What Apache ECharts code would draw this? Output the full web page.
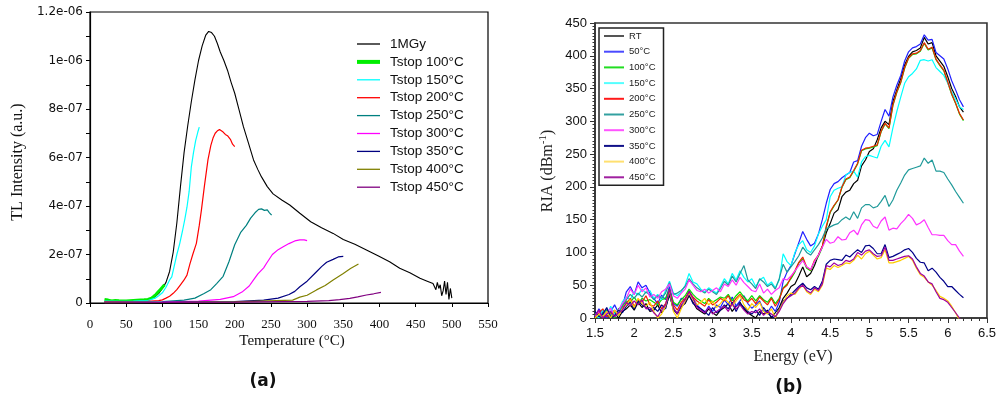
<!DOCTYPE html>
<html>
<head>
<meta charset="utf-8">
<script src="https://cdn.jsdelivr.net/npm/echarts@6/dist/echarts.min.js"></script>
<style>
html,body{margin:0;padding:0;background:#fff;}
#chart{width:999px;height:408px;}
</style>
</head>
<body>
<div id="chart"></div>
<script>
// ---------- Panel (a): TL glow curves (values in units of 1e-7 a.u.) ----------
const yTickLabelsA = ["0","2e-07","4e-07","6e-07","8e-07","1e-06","1.2e-06"];
const namesA = ["1MGy","Tstop 100°C","Tstop 150°C","Tstop 200°C","Tstop 250°C","Tstop 300°C","Tstop 350°C","Tstop 400°C","Tstop 450°C"];

const tMGy = [20,30,40,50,60,70,80,85,90,95,100,105,110,115,120,125,130,135,140,145,150,155,160,164,168,172,176,180,185,190,195,200,206,212,219,226,232,237,245,253,265,276,290,305,320,336,350,366,382,398,414,428,442,456,466,474,478,480,482,484,486,488,490,492,494,496,498,500];
const vMGy = [0.05,0.05,0.06,0.07,0.07,0.09,0.12,0.17,0.26,0.4,0.6,0.85,1.3,2.1,3.3,4.8,6.2,7.3,8.3,9.2,10.0,10.6,11.05,11.2,11.15,11.0,10.7,10.35,10.0,9.6,9.1,8.65,7.96,7.27,6.59,5.9,5.5,5.2,4.8,4.5,4.25,4.04,3.7,3.35,3.1,2.87,2.62,2.42,2.19,1.95,1.7,1.43,1.25,1.02,0.9,0.8,0.55,0.85,0.6,0.75,0.3,0.5,0.9,0.35,0.85,0.15,0.6,0.2];

const t100 = [20,22,25,30,35,40,50,60,70,75,80,85,88,91,94,97,100,103];
const v100 = [0.15,0.1,0.12,0.08,0.1,0.09,0.08,0.1,0.12,0.13,0.15,0.2,0.27,0.35,0.45,0.55,0.65,0.75];

const t150 = [20,40,60,80,90,95,100,105,110,113,117,120,124,128,131,134,137,140,143,146,149,151];
const v150 = [0.08,0.07,0.08,0.1,0.2,0.3,0.42,0.65,0.95,1.08,1.6,2.0,2.45,3.0,3.45,3.95,4.6,5.6,6.2,6.7,7.05,7.25];

const t200 = [20,40,60,80,95,100,105,110,115,120,125,130,134,138,142,147,151,154,158,163,167,170,173,176,179,181,184,187,190,194,197,200];
const v200 = [0.06,0.06,0.06,0.07,0.1,0.13,0.2,0.28,0.4,0.55,0.75,0.95,1.15,1.6,2.0,2.46,3.2,3.84,4.8,5.9,6.5,6.8,7.0,7.1,7.15,7.2,7.05,6.95,6.9,6.75,6.55,6.45];

const t250 = [20,60,100,130,145,157,167,175,184,192,200,208,216,222,228,233,237,241,245,248,251];
const v250 = [0.04,0.05,0.06,0.12,0.2,0.38,0.55,0.8,1.1,1.7,2.4,2.9,3.2,3.5,3.72,3.86,3.88,3.82,3.84,3.72,3.62];

const t300 = [20,100,150,180,198,210,220,226,232,240,244,252,260,267,275,283,290,296,300];
const v300 = [0.03,0.04,0.08,0.15,0.26,0.45,0.7,0.95,1.2,1.45,1.64,2.0,2.2,2.32,2.45,2.56,2.6,2.6,2.57];

const t350 = [20,100,200,240,260,275,283,290,300,313,320,327,336,343,350];
const v350 = [0.02,0.03,0.06,0.12,0.2,0.35,0.48,0.67,0.9,1.29,1.5,1.68,1.8,1.9,1.92];

const t400 = [20,100,200,280,290,300,313,325,336,350,360,371];
const v400 = [0.01,0.02,0.05,0.12,0.24,0.32,0.54,0.72,0.95,1.22,1.42,1.61];

const t450 = [20,100,200,300,330,345,359,370,382,392,402];
const v450 = [0.0,0.02,0.04,0.07,0.1,0.14,0.19,0.25,0.33,0.38,0.44];

// ---------- Panel (b): RIA spectra ----------
const namesB = ["RT","50°C","100°C","150°C","200°C","250°C","300°C","350°C","400°C","450°C"];
const energy = [1.5,1.55,1.6,1.65,1.7,1.75,1.8,1.85,1.9,1.95,2.0,2.05,2.1,2.15,2.2,2.25,2.3,2.35,2.4,2.45,2.5,2.55,2.6,2.65,2.7,2.75,2.8,2.85,2.9,2.95,3.0,3.05,3.1,3.15,3.2,3.25,3.3,3.35,3.4,3.45,3.5,3.55,3.6,3.65,3.7,3.75,3.8,3.85,3.9,3.95,4.0,4.05,4.1,4.15,4.2,4.25,4.3,4.35,4.4,4.45,4.5,4.55,4.6,4.65,4.7,4.75,4.8,4.85,4.9,4.95,5.0,5.05,5.1,5.15,5.2,5.25,5.3,5.35,5.4,5.45,5.5,5.55,5.6,5.65,5.7,5.75,5.8,5.85,5.9,5.95,6.0,6.05,6.1,6.15,6.2];

const riaRT = [6,0,10,4,2,8,0, 10,14,20,12,24,16,22,10, 12,20,8,16,35, 14,6,18, 22,34,24,14, 10,6,14,8,4,12, 16,22,10,18,24,14,8,4, 0,10,6,12,0,8,16, 30,38,48,52,64,78,63,68,80,96,109,130,
  144,160,165,185,192,195,205,210,232,241,254,258,272,290,300,295,330,348,365,386,399,406,408,412,428,418,420,400,392,384,368,350,338,322,314];
const ria50 = [2,14,6,0,10,20,8, 18,40,48,36,55,46,50,38, 30,22,35,28,48, 22,18,30, 28,42,30,20, 14,8,18,10,20,16, 28,20,32,18,26,34,22,15, 20,26,12,8,18,10,24, 56,70,80,98,115,132,120,110,114,128,150,175,
  196,205,208,214,218,222,238,240,262,275,282,278,280,300,318,308,337,355,370,392,406,412,414,418,432,424,425,405,400,395,380,362,348,333,322];
const ria100 = [4,10,2,12,8,0,14, 18,26,24,32,22,30,26,28, 24,20,28,30,44, 24,20,28, 34,44,36,30, 26,22,30,24,28,32, 30,36,26,34,40,32,26,34, 26,34,28,24,32,22,30, 46,52,60,70,84,90,76,72,86,94,108,138,
  161,171,180,199,211,214,224,235,255,258,259,261,263,284,296,289,324,344,359,381,396,402,403,407,419,409,412,394,385,377,359,341,327,311,301];
const ria150 = [5,0,12,4,18,6,10, 25,32,28,40,35,44,38,42, 30,36,28,42,56, 38,34,40, 50,68,55,52, 44,40,46,42,38,48, 60,52,68,58,72,62,55,60, 48,58,62,50,55,46,58, 98,86,80,100,112,118,104,100,110,128,140,150,
  185,195,198,200,218,222,224,215,238,246,248,246,244,262,271,261,290,315,337,358,368,373,380,393,394,392,394,382,376,370,358,345,334,322,318];
const ria200 = [0,8,14,2,6,12,4, 15,22,30,18,28,24,34,20, 18,26,14,22,40, 20,12,24, 30,40,32,26, 22,18,28,20,24,30, 26,34,22,30,36,28,24,30, 22,32,26,20,30,18,28, 45,50,62,72,85,93,78,73,88,96,110,140,
  162,172,180,200,212,215,225,236,256,259,260,262,264,285,297,290,325,345,360,382,397,403,404,408,420,410,413,395,386,378,360,342,328,312,302];
const ria250 = [8,2,6,14,3,10,4, 20,28,36,30,38,32,40,35, 28,34,30,38,54, 36,38,42, 48,60,52,46, 42,38,44,40,36,45, 56,50,64,55,68,80,58,52, 45,60,55,48,52,44,60, 82,70,78,86,95,108,100,96,104,112,122,136,
  139,142,144,150,154,150,162,152,168,173,173,168,170,178,187,170,180,195,206,218,226,228,230,232,244,236,241,224,224,222,212,203,193,184,175];
const ria300 = [3,10,0,8,15,2,12, 22,30,44,36,50,40,46,32, 36,30,40,44,52, 34,30,38, 44,58,50,42, 40,44,38,42,46,40, 52,48,58,50,62,54,48,42, 40,52,38,44,36,42,46, 60,58,64,72,80,88,78,74,86,96,108,120,
  114,116,124,119,120,130,134,127,142,150,149,140,137,148,154,134,137,136,144,150,158,152,142,145,150,138,127,127,126,126,118,112,112,102,94];
const ria350 = [10,2,6,16,0,4,12, 8,18,24,14,26,20,16,12, 16,10,20,14,38, 12,8,16, 24,36,22,18, 14,10,4,16,8,12, 20,14,24,10,22,16,10,6, 12,4,16,8,2,0,14, 26,30,36,42,48,53,46,43,48,44,56,82,
  88,90,89,88,96,93,99,104,100,110,111,106,98,98,112,92,94,97,100,104,106,100,91,85,84,72,76,70,62,56,48,48,42,36,31];
const ria400 = [0,6,2,10,0,12,4, 14,20,28,16,30,22,18,24, 10,0,6,18,42, 10,0,14, 26,38,28,20, 24,30,20,26,16,22, 30,24,18,26,34,20,12,22, 16,24,10,6,14,0,12, 24,34,38,36,44,50,40,36,44,40,50,76,
  74,80,77,80,84,83,88,96,90,98,102,96,90,92,104,84,84,86,88,91,94,88,76,66,62,55,50,42,33,30,26,18,8,-4,-12];
const ria450 = [4,12,0,6,10,2,8, 12,24,18,26,20,28,14,16, 8,2,12,20,44, 16,6,20, 28,40,30,16, 12,8,16,6,10,14, 18,10,22,14,20,12,6,10, 8,14,4,10,6,2,10, 22,30,34,38,46,50,42,38,46,42,52,80,
  78,84,80,82,88,86,90,100,96,102,104,98,94,95,108,88,88,90,92,94,95,90,78,68,64,55,52,40,30,28,24,16,8,0,-8];

// ---------- build ----------
const pairs = (xs, ys) => xs.map((x, i) => [x, ys[i]]);

const specA = [
  [tMGy, vMGy, '#000000', 1.1],
  [t100, v100, '#00ee00', 3],
  [t150, v150, '#00ffff', 1.2],
  [t200, v200, '#ff0000', 1.2],
  [t250, v250, '#008080', 1.2],
  [t300, v300, '#ff00ff', 1.2],
  [t350, v350, '#000080', 1.2],
  [t400, v400, '#808000', 1.2],
  [t450, v450, '#800080', 1.2]
];
const seriesA = specA.map((s, i) => ({
  name: namesA[i], type: 'line', xAxisIndex: 0, yAxisIndex: 0,
  symbol: 'none', data: pairs(s[0], s[1]),
  lineStyle: { color: s[2], width: s[3] }, itemStyle: { color: s[2] }
}));

const specB = [
  [riaRT, '#000000', '#555555'], [ria50, '#2020ff', '#4a4aff'], [ria100, '#00dd00', '#22dd22'], [ria150, '#00ffff', '#55ffff'],
  [ria200, '#ee2200', '#ff1a1a'], [ria250, '#209a9a', '#33a0a0'], [ria300, '#ff33ff', '#ff55ff'], [ria350, '#000088', '#101088'],
  [ria400, '#ffcc00', '#ffe070'], [ria450, '#a000a0', '#a020a0']
];
const seriesB = specB.map((s, i) => ({
  name: namesB[i], type: 'line', xAxisIndex: 1, yAxisIndex: 1,
  symbol: 'none', data: pairs(energy, s[0]),
  lineStyle: { color: s[1], width: 1.2 }, itemStyle: { color: s[1] }
}));

const hiddenSymbol = { color: 'transparent', borderWidth: 0, opacity: 0 };
const legendDataA = namesA.map((n, i) => ({ name: n, lineStyle: { color: specA[i][2], width: specA[i][3] === 3 ? 4 : 1.3 } }));
const legendDataB = namesB.map((n, i) => ({ name: n, lineStyle: { color: specB[i][2], width: 2 } }));

const chart = echarts.init(document.getElementById('chart'), null, { renderer: 'canvas' });
chart.setOption({
  animation: false,
  backgroundColor: '#ffffff',
  grid: [
    { left: 90, top: 12, width: 398, height: 291, show: true, borderColor: '#000', borderWidth: 1.2, backgroundColor: 'transparent' },
    { left: 595, top: 23, width: 397, height: 295, show: true, borderColor: '#333', borderWidth: 1.6, backgroundColor: 'transparent' }
  ],
  xAxis: [
    { gridIndex: 0, type: 'value', min: 0, max: 550, interval: 50,
      axisLine: { show: true, onZero: false, lineStyle: { color: '#000', width: 1.2 } },
      axisTick: { show: true, length: 4, lineStyle: { color: '#000' } },
      axisLabel: { margin: 15, fontFamily: 'Liberation Serif', fontSize: 13, color: '#111' },
      splitLine: { show: false } },
    { gridIndex: 1, type: 'value', min: 1.5, max: 6.5, interval: 0.5,
      axisLine: { show: true, onZero: false, lineStyle: { color: '#333', width: 1.6 } },
      axisTick: { show: true, length: 5, lineStyle: { color: '#333' } },
      minorTick: { show: true, splitNumber: 5, length: 3, lineStyle: { color: '#333' } },
      axisLabel: { margin: 9, fontFamily: 'Liberation Sans', fontSize: 13, color: '#111' },
      splitLine: { show: false } }
  ],
  yAxis: [
    { gridIndex: 0, type: 'value', min: 0, max: 12, interval: 2,
      axisLine: { show: true, onZero: false, lineStyle: { color: '#000', width: 1.2 } },
      axisTick: { show: true, length: 4, lineStyle: { color: '#000' } },
      minorTick: { show: true, splitNumber: 2, length: 4, lineStyle: { color: '#000' } },
      axisLabel: { margin: 7, fontFamily: 'DejaVu Sans', fontSize: 12, color: '#111',
        formatter: v => yTickLabelsA[Math.round(v / 2)] },
      splitLine: { show: false } },
    { gridIndex: 1, type: 'value', min: 0, max: 450, interval: 50,
      axisLine: { show: true, onZero: false, lineStyle: { color: '#333', width: 1.6 } },
      axisTick: { show: true, length: 5, lineStyle: { color: '#333' } },
      minorTick: { show: true, splitNumber: 10, length: 2.5, lineStyle: { color: '#333' } },
      axisLabel: { margin: 8, fontFamily: 'Liberation Sans', fontSize: 13, color: '#111' },
      splitLine: { show: false } }
  ],
  legend: [
    { orient: 'vertical', left: 350, top: 32, itemWidth: 23, itemHeight: 14, itemGap: 3.9,
      selectedMode: false, data: legendDataA, itemStyle: hiddenSymbol,
      textStyle: { fontFamily: 'Liberation Sans', fontSize: 13.5, color: '#111', lineHeight: 14, padding: [0, 0, 0, 5] } },
    { orient: 'vertical', left: 599, top: 28, itemWidth: 20, itemHeight: 10, itemGap: 5.7,
      padding: [3, 8, 3, 4], borderColor: '#222', borderWidth: 1.5, backgroundColor: '#fff',
      selectedMode: false, data: legendDataB, itemStyle: hiddenSymbol,
      textStyle: { fontFamily: 'Liberation Sans', fontSize: 9.5, color: '#222', lineHeight: 10 } }
  ],
  graphic: [
    { type: 'text', x: 292, y: 341, style: { text: 'Temperature (°C)', fontFamily: 'Liberation Serif', fontSize: 15, fill: '#111', align: 'center', verticalAlign: 'middle' } },
    { type: 'text', x: 18, y: 162, rotation: Math.PI / 2, style: { text: 'TL Intensity (a.u.)', fontFamily: 'Liberation Serif', fontSize: 16, fill: '#111', align: 'center', verticalAlign: 'middle' } },
    { type: 'text', x: 793, y: 357, style: { text: 'Energy (eV)', fontFamily: 'Liberation Serif', fontSize: 16, fill: '#222', align: 'center', verticalAlign: 'middle' } },
    { type: 'text', x: 547, y: 171, rotation: Math.PI / 2, style: {
        text: '{n|RIA (dBm}{s|-1}{n|)}', align: 'center', verticalAlign: 'middle', fill: '#222',
        rich: { n: { fontFamily: 'Liberation Serif', fontSize: 16, lineHeight: 18, verticalAlign: 'bottom', fill: '#222' },
                s: { fontFamily: 'Liberation Serif', fontSize: 11, lineHeight: 18, verticalAlign: 'top', fill: '#222' } } } },
    { type: 'text', x: 263, y: 382, style: { text: '(a)', fontFamily: 'DejaVu Sans', fontWeight: 'bold', fontSize: 17, fill: '#111', align: 'center', verticalAlign: 'middle' } },
    { type: 'text', x: 789, y: 388, style: { text: '(b)', fontFamily: 'DejaVu Sans', fontWeight: 'bold', fontSize: 17, fill: '#111', align: 'center', verticalAlign: 'middle' } }
  ],
  series: seriesA.concat(seriesB)
});
</script>
</body>
</html>
